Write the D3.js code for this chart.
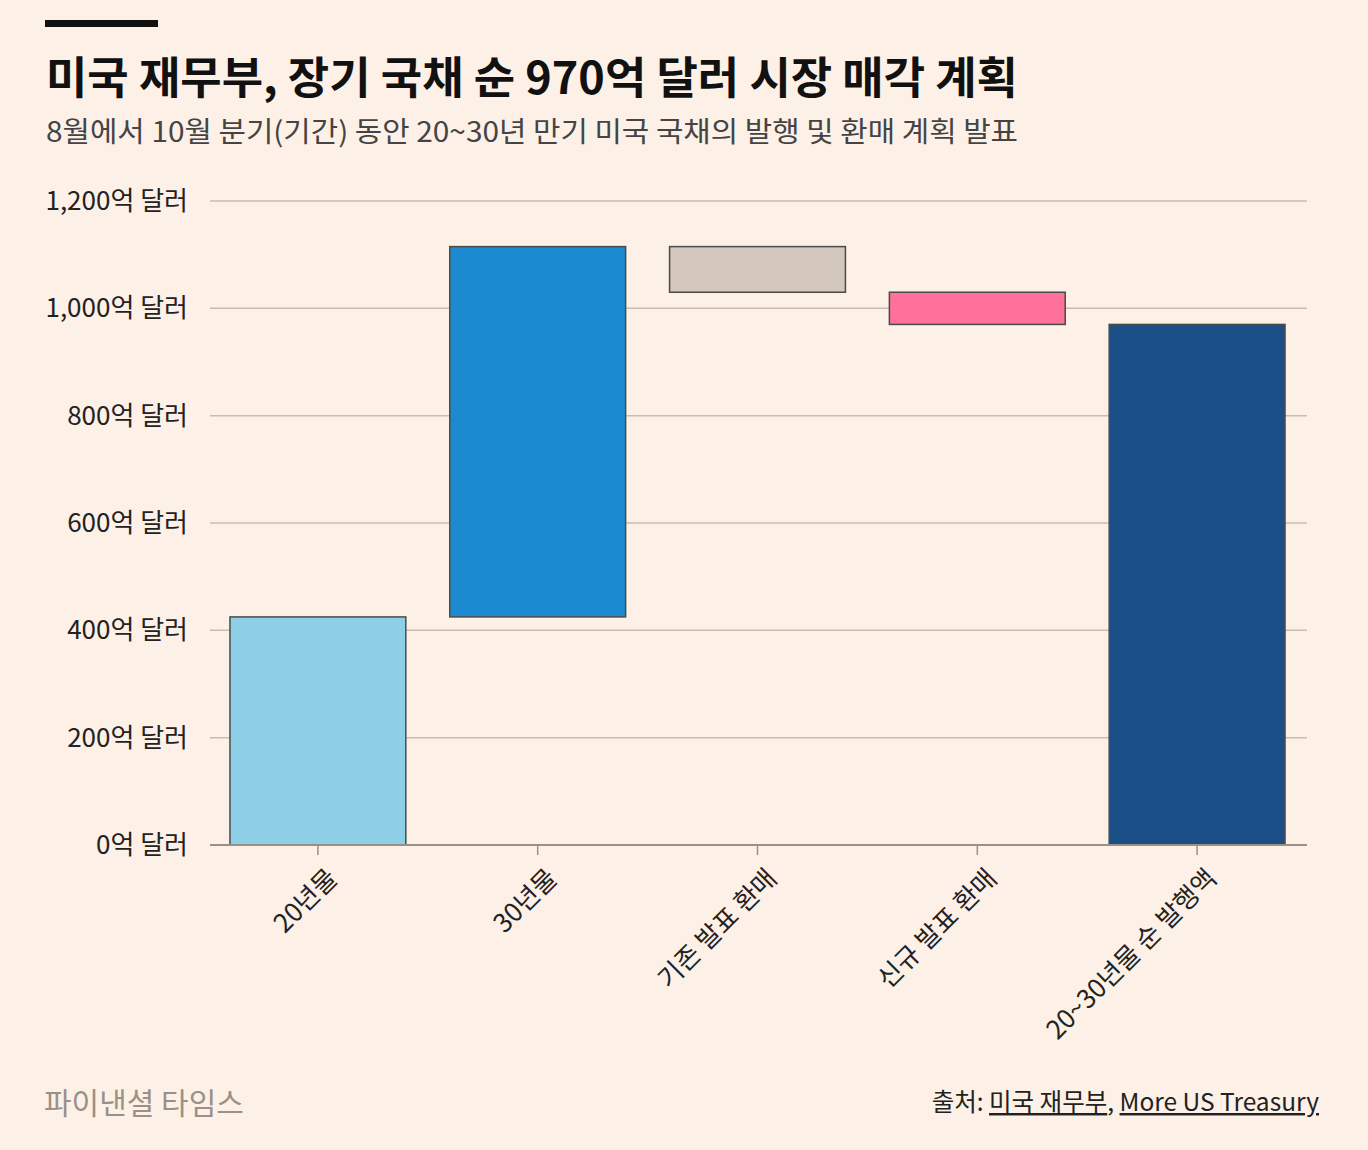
<!DOCTYPE html>
<meta charset="utf-8">
<style>
body { margin: 0; background: #fdf0e6; }
text { font-family: "Noto Sans CJK KR", "Noto Sans", sans-serif; }
</style>
<body>
<script src="https://cdnjs.cloudflare.com/ajax/libs/d3/7.8.5/d3.min.js"></script>
<script>

var categories = ["20년물", "30년물", "기존 발표 환매", "신규 발표 환매", "20~30년물 순 발행액"];
var changes = [425, 690, -85, -60, null]; // null = total bar
var colors = ["#8ecfe8", "#1b8ad1", "#d4c7bb", "#ff709b", "#1b4f88"];
var yTicks = [0, 200, 400, 600, 800, 1000, 1200];

var w = 1368, h = 1150;
var margin = {left: 208, right: 61, top: 201, bottom: 305};

// running totals -> start / end of each bar
var running = 0;
var bars = categories.map(function(c, i) {
	var d = {name: c, color: colors[i]};
	if (changes[i] === null) {
		d.y0 = 0; d.y1 = running;
	} else {
		d.y0 = running; running += changes[i]; d.y1 = running;
	}
	return d;
});

var svg = d3.select("body").append("svg")
	.attr("width", w)
	.attr("height", h);

svg.append("rect").attr("width", w).attr("height", h).attr("fill", "#fdf0e6");

var x = d3.scaleBand()
	.domain(categories)
	.range([margin.left, w - margin.right])
	.paddingInner(0.2)
	.paddingOuter(0.1);

var y = d3.scaleLinear()
	.domain([0, 1200])
	.range([h - margin.bottom, margin.top]);

// header
svg.append("rect").attr("x", 45).attr("y", 20).attr("width", 113).attr("height", 7).attr("fill", "#111");
svg.append("text")
	.attr("x", 46).attr("y", 94)
	.attr("font-size", 44).attr("font-weight", 700).attr("fill", "#111")
	.attr("textLength", 972).attr("lengthAdjust", "spacingAndGlyphs")
	.text("미국 재무부, 장기 국채 순 970억 달러 시장 매각 계획");
svg.append("text")
	.attr("x", 46).attr("y", 142)
	.attr("font-size", 28).attr("fill", "#444")
	.attr("textLength", 972).attr("lengthAdjust", "spacingAndGlyphs")
	.text("8월에서 10월 분기(기간) 동안 20~30년 만기 미국 국채의 발행 및 환매 계획 발표");

// grid
svg.append("g").selectAll("line")
	.data(yTicks.filter(function(t) { return t > 0; }))
	.enter().append("line")
	.attr("x1", margin.left + 2).attr("x2", w - margin.right)
	.attr("y1", function(d) { return y(d); })
	.attr("y2", function(d) { return y(d); })
	.attr("stroke", "#c9bdb1").attr("stroke-width", 1.5);

// y labels
svg.append("g").selectAll("text")
	.data(yTicks)
	.enter().append("text")
	.attr("x", 188)
	.attr("y", function(d) { return y(d); })
	.attr("dy", "0.35em")
	.attr("text-anchor", "end")
	.attr("font-size", 26).attr("fill", "#222")
	.text(function(d) { return d3.format(",")(d) + "억 달러"; });

// bars
svg.append("g").selectAll("rect")
	.data(bars)
	.enter().append("rect")
	.attr("x", function(d) { return x(d.name); })
	.attr("width", x.bandwidth())
	.attr("y", function(d) { return y(Math.max(d.y0, d.y1)); })
	.attr("height", function(d) { return Math.abs(y(d.y0) - y(d.y1)); })
	.attr("fill", function(d) { return d.color; })
	.attr("stroke", "#4a4a4a").attr("stroke-width", 1.5);

// x axis
var xAxis = svg.append("g")
	.attr("transform", "translate(0," + y(0) + ")")
	.call(d3.axisBottom(x).tickSize(10).tickSizeOuter(0));
xAxis.select(".domain").attr("stroke", "#9a9088").attr("stroke-width", 2)
	.attr("d", "M" + (margin.left + 2) + ",0H" + (w - margin.right));
xAxis.selectAll(".tick line").attr("stroke", "#9a9088").attr("stroke-width", 1.5);
xAxis.selectAll(".tick text")
	.attr("font-family", "Noto Sans CJK KR")
	.attr("font-size", 26).attr("fill", "#222")
	.attr("text-anchor", "end")
	.attr("transform", "translate(10,24) rotate(-45)")
	.attr("dy", "0.6em").attr("y", 0).attr("x", 0);

// footer
svg.append("text")
	.attr("x", 44).attr("y", 1114)
	.attr("font-size", 30).attr("fill", "#9a9088")
	.text("파이낸셜 타임스");

var src = svg.append("text")
	.attr("x", 1319).attr("y", 1111)
	.attr("text-anchor", "end")
	.attr("font-size", 24.5).attr("fill", "#222");
src.append("tspan").text("출처: ");
src.append("tspan").attr("text-decoration", "underline").text("미국 재무부");
src.append("tspan").text(", ");
src.append("tspan").attr("text-decoration", "underline").text("More US Treasury");

</script>
</body>
